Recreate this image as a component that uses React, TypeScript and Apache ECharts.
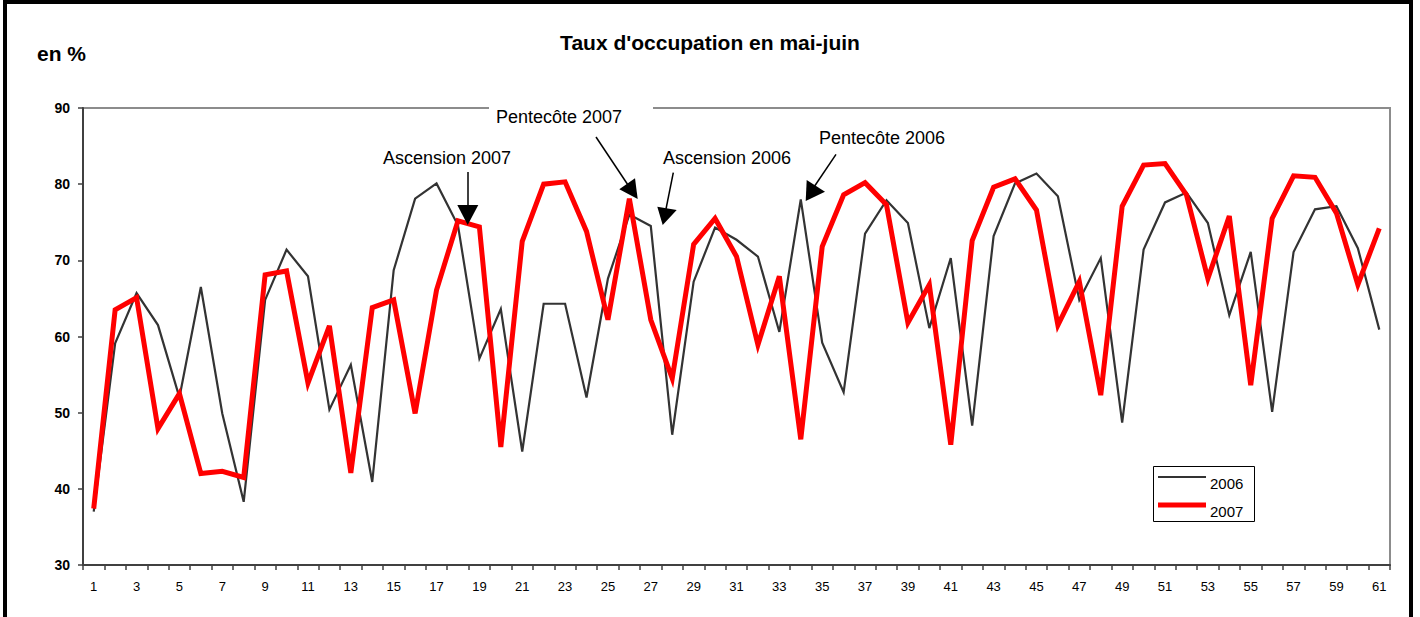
import React, { useEffect, useRef } from "react";
import * as echarts from "echarts";

const categories: string[] = Array.from({ length: 61 }, (_, i) => String(i + 1));

const occ2006: number[] = [
  37.0, 59.1, 65.7, 61.5, 52.0, 66.5, 49.9, 38.3, 64.8, 71.4,
  67.9, 50.4, 56.3, 40.9, 68.7, 78.1, 80.1, 74.6, 57.1, 63.6,
  44.9, 64.3, 64.3, 52.0, 67.6, 76.0, 74.5, 47.1, 67.2, 74.3,
  72.7, 70.5, 60.6, 78.0, 59.2, 52.7, 73.5, 77.9, 74.9, 61.1,
  70.3, 48.3, 73.2, 80.1, 81.4, 78.4, 64.8, 70.3, 48.7, 71.4,
  77.6, 78.9, 74.9, 62.8, 71.1, 50.1, 71.1, 76.7, 77.1, 71.6, 60.9,
];

const occ2007: number[] = [
  37.4, 63.5, 65.1, 47.9, 52.5, 42.0, 42.3, 41.5, 68.1, 68.6,
  53.9, 61.4, 42.1, 63.8, 64.8, 49.9, 66.1, 75.2, 74.4, 45.5,
  72.5, 80.0, 80.3, 73.8, 62.2, 78.1, 62.2, 54.5, 72.1, 75.5,
  70.5, 58.9, 67.9, 46.5, 71.8, 78.6, 80.2, 77.3, 61.8, 66.8,
  45.8, 72.6, 79.6, 80.7, 76.6, 61.5, 67.2, 52.3, 77.1, 82.5,
  82.7, 78.6, 67.6, 75.8, 53.6, 75.5, 81.1, 80.9, 76.2, 66.8, 74.2,
];

const seriesNames: string[] = ["2006", "2007"];
const seriesColors: string[] = ["#333333", "#ff0000"];
const seriesWidths: number[] = [2.2, 5];
const titleText = "Taux d'occupation en mai-juin";
const unitText = "en %";

const FONT = "Arial, 'Liberation Sans', sans-serif";

export default function App() {
  const ref = useRef<HTMLDivElement>(null);
  useEffect(() => {
    if (!ref.current) return;
    const chart = echarts.init(ref.current, undefined, { renderer: "svg" });
    const arrowLine = (x1: number, y1: number, x2: number, y2: number) => ({
      type: "line",
      z: 100,
      shape: { x1, y1, x2, y2 },
      style: { stroke: "#000", lineWidth: 1.5 },
    });
    const head = (pts: number[][]) => ({
      type: "polygon",
      z: 100,
      shape: { points: pts },
      style: { fill: "#000" },
    });
    const label = (text: string, x: number, y: number, size = 18) => ({
      type: "text",
      z: 101,
      x,
      y,
      style: {
        text,
        font: `${size}px ${FONT}`,
        fill: "#000",
        textAlign: "left",
        textVerticalAlign: "middle",
      },
    });
    const legendItems = seriesNames.flatMap((name, i) => {
      const ly = 477 + i * 28;
      return [
        {
          type: "line",
          z: 100,
          shape: { x1: 1158, y1: ly, x2: 1206, y2: ly },
          style: { stroke: seriesColors[i], lineWidth: seriesWidths[i] },
        },
        label(name, 1210, ly + 6, 15),
      ];
    });
    chart.setOption({
      animation: false,
      backgroundColor: "#fff",
      title: {
        text: titleText,
        left: "center",
        top: 27,
        textStyle: { fontFamily: FONT, fontSize: 21, fontWeight: "bold", color: "#000" },
      },
      grid: {
        left: 83,
        right: 30,
        top: 108,
        bottom: 52,
        show: true,
        borderColor: "#8c8c8c",
        borderWidth: 2,
        backgroundColor: "transparent",
      },
      xAxis: {
        type: "category",
        data: categories,
        boundaryGap: true,
        axisLine: { lineStyle: { color: "#404040", width: 2 } },
        axisTick: { show: true, interval: 0, length: 5, lineStyle: { color: "#404040", width: 1.5 } },
        axisLabel: {
          interval: 1,
          margin: 15,
          fontFamily: FONT,
          fontSize: 13,
          color: "#000",
        },
        splitLine: { show: false },
      },
      yAxis: {
        type: "value",
        min: 30,
        max: 90,
        interval: 10,
        axisLine: { show: true, lineStyle: { color: "#404040", width: 2 } },
        axisTick: { show: true, length: 5, lineStyle: { color: "#404040", width: 1.5 } },
        axisLabel: {
          margin: 13,
          fontFamily: FONT,
          fontSize: 14,
          fontWeight: "bold",
          color: "#000",
        },
        splitLine: { show: false },
      },
      series: [
        {
          name: seriesNames[0],
          type: "line",
          data: occ2006,
          symbol: "none",
          showSymbol: false,
          color: seriesColors[0],
          lineStyle: { color: seriesColors[0], width: seriesWidths[0], join: "miter" },
          z: 2,
        },
        {
          name: seriesNames[1],
          type: "line",
          data: occ2007,
          symbol: "none",
          showSymbol: false,
          color: seriesColors[1],
          lineStyle: { color: seriesColors[1], width: seriesWidths[1], join: "miter" },
          z: 3,
        },
      ],
      graphic: [
        {
          type: "rect",
          z: 50,
          shape: { x: 5, y: 2, width: 1406, height: 720 },
          style: { fill: "none", stroke: "#000", lineWidth: 4 },
        },
        {
          type: "text",
          z: 100,
          x: 37,
          y: 53,
          style: {
            text: unitText,
            font: `bold 21px ${FONT}`,
            fill: "#000",
            textVerticalAlign: "middle",
          },
        },
        {
          type: "rect",
          z: 99,
          shape: { x: 489, y: 100, width: 164, height: 30 },
          style: { fill: "#fff" },
        },
        label("Pentecôte 2007", 496, 117),
        arrowLine(596, 137, 630, 188),
        head([[619.3, 189.3], [635, 178.3], [637.7, 199]]),
        label("Ascension 2007", 383, 158),
        arrowLine(468, 172, 468, 206),
        head([[457.3, 205], [478.3, 205], [467.7, 225]]),
        label("Ascension 2006", 663, 158),
        arrowLine(673.3, 172.7, 666, 209),
        head([[657.3, 206.7], [676.7, 210], [662.7, 225]]),
        label("Pentecôte 2006", 819, 138),
        arrowLine(836, 154.3, 814, 187),
        head([[806.7, 180], [825, 191.7], [805.7, 201]]),
        {
          type: "rect",
          z: 99,
          shape: { x: 1153.5, y: 466.5, width: 101, height: 55 },
          style: { fill: "#fff", stroke: "#000", lineWidth: 1 },
        },
        ...legendItems,
      ],
    });
    return () => chart.dispose();
  }, []);
  return (
    <div
      ref={ref}
      style={{ position: "fixed", left: 0, top: 0, width: 1420, height: 617 }}
    />
  );
}
